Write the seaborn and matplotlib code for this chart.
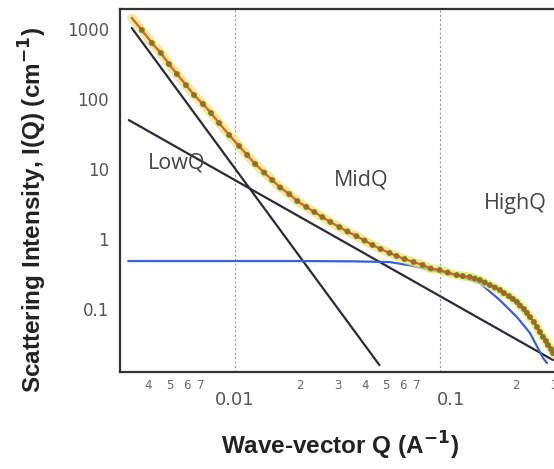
import numpy as np
import pandas as pd
import matplotlib
matplotlib.use("Agg")
import matplotlib.pyplot as plt
from matplotlib.ticker import FixedLocator, FixedFormatter, NullLocator
import seaborn as sns

# ---- data ----
q_data = [0.003345, 0.003722, 0.004142, 0.004559, 0.004967, 0.005410, 0.005955, 0.006489,
          0.007141, 0.007780, 0.008475, 0.009430, 0.01049, 0.01143, 0.01245, 0.01370,
          0.01493, 0.01626, 0.01790, 0.01950, 0.02147, 0.02338, 0.02547, 0.02774,
          0.03054, 0.03327, 0.03663, 0.03990, 0.04345, 0.04735, 0.05211, 0.05616,
          0.06115, 0.06735, 0.07417, 0.08075, 0.08892, 0.09685, 0.1066, 0.1137,
          0.1225, 0.1292, 0.1364, 0.1438, 0.1517, 0.1600, 0.1688, 0.1762,
          0.1858, 0.1940, 0.2024, 0.2090, 0.2182, 0.2253, 0.2326, 0.2427,
          0.2507, 0.2588, 0.2673, 0.2759, 0.2818, 0.2911, 0.2973]
i_data = [1436, 967.4, 631, 454.1, 316, 227.6, 158, 114.1,
          84.8, 63.1, 45.4, 30.6, 21.3, 15.85, 11.8, 8.91,
          6.96, 5.44, 4.39, 3.49, 2.87, 2.43, 2.06, 1.75,
          1.48, 1.28, 1.10, 0.952, 0.821, 0.720, 0.631, 0.572,
          0.518, 0.469, 0.425, 0.379, 0.361, 0.332, 0.306, 0.296,
          0.287, 0.273, 0.260, 0.239, 0.220, 0.203, 0.187, 0.169,
          0.153, 0.139, 0.126, 0.112, 0.100, 0.0877, 0.0769, 0.0652,
          0.0553, 0.0469, 0.0398, 0.0349, 0.0306, 0.0268, 0.0235]

q_low = [0.003345, 0.0468]
i_low = [1033, 0.0158]
q_mid = [0.00324, 0.297]
i_mid = [50.0, 0.0187]
q_high = [0.00322, 0.02, 0.035, 0.0521, 0.065, 0.089, 0.11, 0.1364, 0.1687, 0.2023, 0.2326, 0.2673, 0.279]
i_high = [0.485, 0.485, 0.48, 0.469, 0.42, 0.338, 0.29, 0.235, 0.134, 0.0769, 0.0455, 0.020, 0.0169]

region_q = [0.01, 0.089]
region_names = ["LowQ", "MidQ", "HighQ"]
major_ticks_x = [0.01, 0.1]
major_labels_x = ["0.01", "0.1"]
minor_ticks_x = [0.004, 0.005, 0.006, 0.007, 0.008, 0.009,
                 0.02, 0.03, 0.04, 0.05, 0.06, 0.07, 0.08, 0.09, 0.2, 0.3]
minor_labels_x = ["4", "5", "6", "7", "", "",
                  "2", "3", "4", "5", "6", "7", "", "", "2", "3"]
yticks = [1000, 100, 10, 1, 0.1]
ylabels = ["1000", "100", "10", "1", "0.1"]

df = pd.DataFrame({"Q": q_data, "I": i_data})
df_low = pd.DataFrame({"Q": q_low, "I": i_low})
df_mid = pd.DataFrame({"Q": q_mid, "I": i_mid})
df_high = pd.DataFrame({"Q": q_high, "I": i_high})

sns.set_style("white")
plt.rcParams["font.family"] = ["DejaVu Sans"]

W, H = 554, 469
fig = plt.figure(figsize=(W / 100, H / 100), dpi=100)
ax = fig.add_axes([120 / W, 1 - 372 / H, 436 / W, 363 / H])
ax.set_xscale("log")
ax.set_yscale("log")

for qv in region_q:
    ax.axvline(qv, color="#999999", lw=0.8, ls=(0, (2, 2)), zorder=1)

sns.lineplot(data=df_low, x="Q", y="I", ax=ax, color="#2a2a38", lw=1.6, zorder=3)
sns.lineplot(data=df_mid, x="Q", y="I", ax=ax, color="#2a2a38", lw=1.6, zorder=3)
sns.lineplot(data=df_high, x="Q", y="I", ax=ax, color="#3a5fd6", lw=1.6, zorder=3, sort=False)

# data with fit
sns.lineplot(data=df, x="Q", y="I", ax=ax, color="#f1e272", lw=6.5, alpha=0.75, zorder=4, sort=False)
sns.scatterplot(data=df.iloc[1:], x="Q", y="I", ax=ax, color="#5f8c25", s=18,
                edgecolor="none", zorder=5)
sns.lineplot(data=df, x="Q", y="I", ax=ax, color="#c4542a", lw=1.7, alpha=0.85, zorder=6, sort=False)

ax.set_xlim(0.00295, 0.307)
ax.set_ylim(0.0126, 1931)

ax.xaxis.set_major_locator(FixedLocator(major_ticks_x))
ax.xaxis.set_major_formatter(FixedFormatter(major_labels_x))
ax.xaxis.set_minor_locator(FixedLocator(minor_ticks_x))
ax.xaxis.set_minor_formatter(FixedFormatter(minor_labels_x))
ax.yaxis.set_major_locator(FixedLocator(yticks))
ax.yaxis.set_major_formatter(FixedFormatter(ylabels))
ax.yaxis.set_minor_locator(NullLocator())

ax.tick_params(axis="x", which="major", direction="in", length=11.5, width=1.5,
               color="#333333", labelsize=13, labelcolor="#555555", pad=14,
               top=False)
ax.tick_params(axis="x", which="minor", direction="in", length=5.8, width=1.2,
               color="#333333", labelsize=8.5, labelcolor="#666666", pad=5,
               top=False)
ax.tick_params(axis="y", which="major", direction="in", length=11, width=1.5,
               color="#333333", labelsize=12, labelcolor="#555555", pad=8,
               right=False)

for side in ["left", "bottom", "top"]:
    ax.spines[side].set_visible(True)
    ax.spines[side].set_linewidth(1.6)
    ax.spines[side].set_color("#333333")
ax.spines["right"].set_visible(False)

ax.set_xlabel("")
ax.set_ylabel("")

tf = dict(fontsize=15.5, color="#444444", family=["Open Sans", "DejaVu Sans"],
          ha="center", va="center")
fig.text(177 / W, 1 - 163 / H, region_names[0], **tf)
fig.text(361 / W, 1 - 180 / H, region_names[1], **tf)
fig.text(515 / W, 1 - 203 / H, region_names[2], **tf)

lf = dict(fontsize=17.5, fontweight="bold", color="#222222",
          family=["Liberation Sans", "DejaVu Sans"], ha="center", va="center")
fig.text(340 / W, 1 - 446 / H, r"Wave-vector Q (A$^{\mathbf{-1}}$)", **lf)
fig.text(33 / W, 1 - 210 / H, r"Scattering Intensity, I(Q) (cm$^{\mathbf{-1}}$)",
         rotation=90, **lf)

fig.savefig("out.png", dpi=100)
